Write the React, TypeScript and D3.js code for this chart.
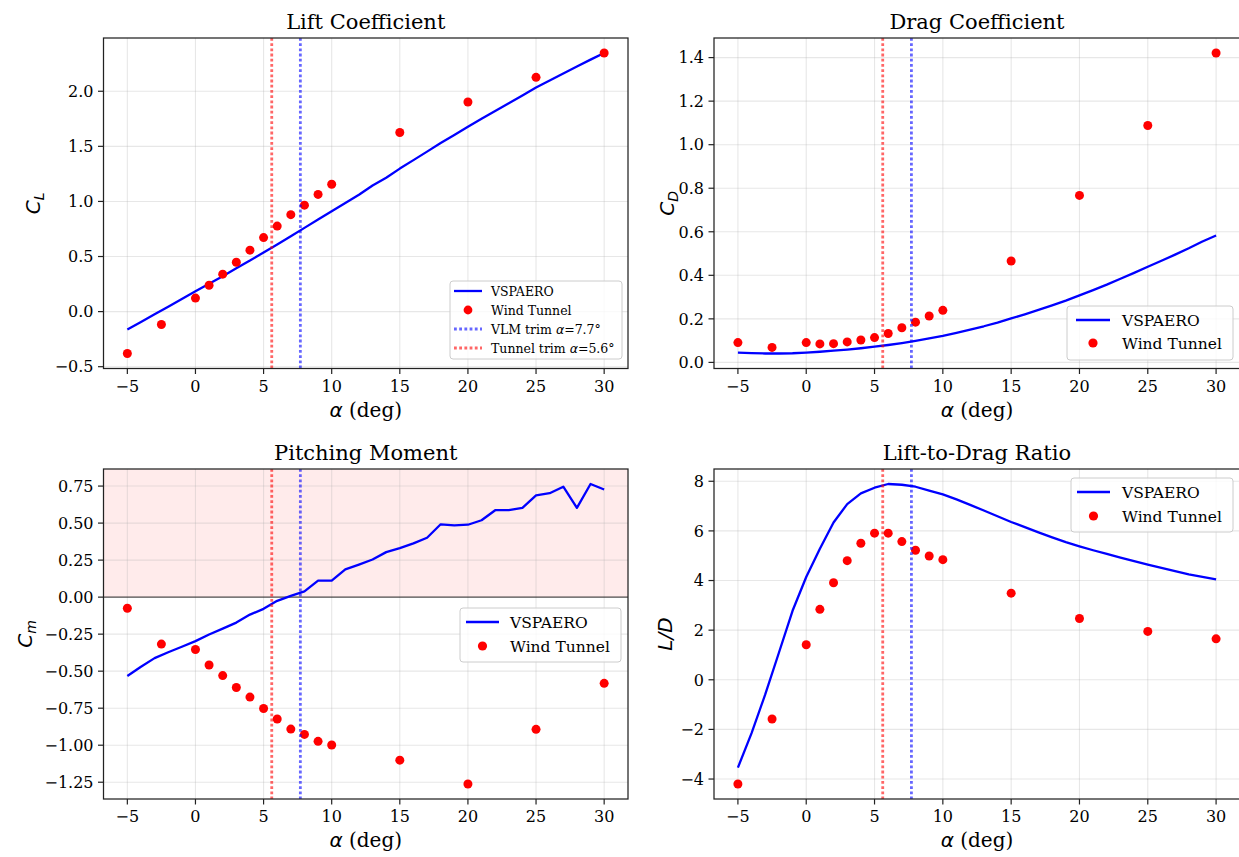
import React from 'react';
import * as d3 from 'd3';

// ---------------- DATA ----------------
const ALPHA_VSP = [-5, -4, -3, -2, -1, 0, 1, 2, 3, 4, 5, 6, 7, 8, 9, 10, 11, 12, 13, 14, 15, 16, 17, 18, 19, 20, 21, 22, 23, 24, 25, 26, 27, 28, 29, 30];
const ALPHA_WT = [-5, -2.5, 0, 1, 2, 3, 4, 5, 6, 7, 8, 9, 10, 15, 20, 25, 30];

const CL_VSP = [-0.163, -0.095, -0.025, 0.045, 0.115, 0.184, 0.252, 0.322, 0.393, 0.463, 0.537, 0.61, 0.684, 0.76, 0.836, 0.911, 0.985, 1.06, 1.145, 1.215, 1.298, 1.375, 1.452, 1.53, 1.603, 1.678, 1.75, 1.82, 1.89, 1.962, 2.034, 2.098, 2.162, 2.225, 2.287, 2.347];
const CL_WT = [-0.38, -0.117, 0.123, 0.239, 0.34, 0.448, 0.558, 0.672, 0.776, 0.88, 0.966, 1.064, 1.156, 1.626, 1.902, 2.126, 2.347];

const CD_VSP = [0.045, 0.043, 0.041, 0.041, 0.042, 0.045, 0.049, 0.054, 0.059, 0.065, 0.072, 0.08, 0.089, 0.099, 0.11, 0.122, 0.136, 0.151, 0.166, 0.183, 0.202, 0.221, 0.241, 0.262, 0.284, 0.308, 0.332, 0.357, 0.384, 0.411, 0.439, 0.467, 0.495, 0.524, 0.555, 0.583];
const CD_WT = [0.091, 0.069, 0.091, 0.085, 0.086, 0.094, 0.103, 0.114, 0.133, 0.159, 0.185, 0.213, 0.239, 0.466, 0.767, 1.088, 1.421];

const CM_VSP = [-0.533, -0.47, -0.412, -0.372, -0.335, -0.297, -0.252, -0.213, -0.172, -0.118, -0.079, -0.025, 0.009, 0.039, 0.111, 0.111, 0.188, 0.22, 0.254, 0.304, 0.331, 0.363, 0.401, 0.492, 0.485, 0.489, 0.519, 0.587, 0.587, 0.603, 0.687, 0.702, 0.746, 0.603, 0.764, 0.727];
const CM_WT = [-0.075, -0.317, -0.354, -0.458, -0.53, -0.61, -0.675, -0.752, -0.823, -0.891, -0.927, -0.974, -0.999, -1.101, -1.262, -0.893, -0.582];

const LD_VSP = [-3.54, -2.15, -0.59, 1.09, 2.78, 4.14, 5.28, 6.34, 7.08, 7.51, 7.74, 7.89, 7.86, 7.78, 7.62, 7.47, 7.27, 7.05, 6.82, 6.59, 6.36, 6.15, 5.94, 5.74, 5.55, 5.38, 5.22, 5.07, 4.92, 4.78, 4.64, 4.51, 4.38, 4.25, 4.15, 4.05];
const LD_WT = [-4.2, -1.58, 1.41, 2.84, 3.91, 4.8, 5.5, 5.91, 5.91, 5.57, 5.22, 4.99, 4.84, 3.49, 2.47, 1.95, 1.65];

const X_TICKS = [-5, 0, 5, 10, 15, 20, 25, 30];
const CL_TICKS = [-0.5, 0, 0.5, 1.0, 1.5, 2.0];
const CD_TICKS = [0, 0.2, 0.4, 0.6, 0.8, 1.0, 1.2, 1.4];
const CM_TICKS = [-1.25, -1.0, -0.75, -0.5, -0.25, 0, 0.25, 0.5, 0.75];
const LD_TICKS = [-4, -2, 0, 2, 4, 6, 8];

const TRIM_VLM = 7.7;
const TRIM_TUNNEL = 5.6;

const TITLES = ['Lift Coefficient', 'Drag Coefficient', 'Pitching Moment', 'Lift-to-Drag Ratio'];
const SERIES_NAMES = ['VSPAERO', 'Wind Tunnel'];

// ---------------- STYLE ----------------
const SERIF = '"DejaVu Serif", serif';
const SANS = '"DejaVu Sans", sans-serif';
const W = 1239;
const H = 857;
const TICK_FS = 16;
const LABEL_FS = 20;
const TITLE_FS = 21;
const MINUS = '\u2212';
const DOT_W = 2.8;
const DOT_DASH = '2.8,2.4';

const fmt = (d: number, digits: number) => {
  const s = d.toFixed(digits);
  return s.startsWith('-') ? MINUS + s.slice(1) : s;
};

type LegendSpec = {
  left: number; top: number; width: number; height: number;
  rows: number[]; handleX0: number; handleX1: number; textX: number; fs: number; trims: boolean;
};

type PanelSpec = {
  x0: number; x1: number; y0: number; y1: number;
  title: string;
  ylabel: React.ReactNode;
  ylabelX: number;
  vsp: number[]; wt: number[];
  ticks: number[]; digits: number;
  shade?: boolean;
  legend: LegendSpec;
};

function Legend({ spec }: { spec: LegendSpec }) {
  const { left, top, width, height, rows, handleX0, handleX1, textX, fs, trims } = spec;
  const hx = (handleX0 + handleX1) / 2;
  const entries: React.ReactNode[] = [];
  entries.push(
    <g key="v">
      <line x1={handleX0} x2={handleX1} y1={rows[0]} y2={rows[0]} stroke="#0000ff" strokeWidth={2.3} />
      <text x={textX} y={rows[0]} dy="0.36em" fontFamily={SERIF} fontSize={fs}>{SERIES_NAMES[0]}</text>
    </g>
  );
  entries.push(
    <g key="w">
      <circle cx={hx} cy={rows[1]} r={fs > 14 ? 4.6 : 4.4} fill="#ff0000" />
      <text x={textX} y={rows[1]} dy="0.36em" fontFamily={SERIF} fontSize={fs}>{SERIES_NAMES[1]}</text>
    </g>
  );
  if (trims) {
    entries.push(
      <g key="t1">
        <line x1={handleX0} x2={handleX1} y1={rows[2]} y2={rows[2]} stroke="#0000ff" strokeOpacity={0.6} strokeWidth={DOT_W} strokeDasharray={DOT_DASH} />
        <text x={textX} y={rows[2]} dy="0.36em" fontFamily={SERIF} fontSize={fs}>
          VLM trim <tspan fontFamily={SANS} fontStyle="italic">α</tspan>={TRIM_VLM.toFixed(1)}°
        </text>
      </g>
    );
    entries.push(
      <g key="t2">
        <line x1={handleX0} x2={handleX1} y1={rows[3]} y2={rows[3]} stroke="#ff0000" strokeOpacity={0.6} strokeWidth={DOT_W} strokeDasharray={DOT_DASH} />
        <text x={textX} y={rows[3]} dy="0.36em" fontFamily={SERIF} fontSize={fs}>
          Tunnel trim <tspan fontFamily={SANS} fontStyle="italic">α</tspan>={TRIM_TUNNEL.toFixed(1)}°
        </text>
      </g>
    );
  }
  return (
    <g>
      <rect x={left} y={top} width={width} height={height} rx={3} ry={3} fill="#ffffff" fillOpacity={0.8} stroke="#cccccc" strokeWidth={1} />
      {entries}
    </g>
  );
}

function Panel({ p }: { p: PanelSpec }) {
  const all = [...p.vsp, ...p.wt];
  const lo = d3.min(all) as number;
  const hi = d3.max(all) as number;
  const pad = (hi - lo) * 0.05;
  const xAll = [...ALPHA_VSP, ...ALPHA_WT];
  const xlo = d3.min(xAll) as number;
  const xhi = d3.max(xAll) as number;
  const xpad = (xhi - xlo) * 0.05;

  const x = d3.scaleLinear().domain([xlo - xpad, xhi + xpad]).range([p.x0, p.x1]);
  const y = d3.scaleLinear().domain([lo - pad, hi + pad]).range([p.y1, p.y0]);

  const line = d3.line<number>().x((_, i) => x(ALPHA_VSP[i])).y((d) => y(d));
  const clipId = `clip-${p.x0}-${p.y0}`;
  const cx = (p.x0 + p.x1) / 2;
  const cy = (p.y0 + p.y1) / 2;

  return (
    <g>
      <defs>
        <clipPath id={clipId}>
          <rect x={p.x0} y={p.y0} width={p.x1 - p.x0} height={p.y1 - p.y0} />
        </clipPath>
      </defs>
      <g clipPath={`url(#${clipId})`}>
        {p.shade && (
          <rect x={p.x0} y={p.y0} width={p.x1 - p.x0} height={y(0) - p.y0} fill="#ff0000" fillOpacity={0.08} />
        )}
        {X_TICKS.map((t) => (
          <line key={'gx' + t} x1={x(t)} x2={x(t)} y1={p.y0} y2={p.y1} stroke="#b0b0b0" strokeOpacity={0.3} strokeWidth={1.1} />
        ))}
        {p.ticks.map((t) => (
          <line key={'gy' + t} x1={p.x0} x2={p.x1} y1={y(t)} y2={y(t)} stroke="#b0b0b0" strokeOpacity={0.3} strokeWidth={1.1} />
        ))}
        {p.shade && (
          <line x1={p.x0} x2={p.x1} y1={y(0)} y2={y(0)} stroke="#000000" strokeOpacity={0.65} strokeWidth={1.2} />
        )}
        <path d={line(p.vsp) || ''} fill="none" stroke="#0000ff" strokeWidth={2.3} strokeLinejoin="round" />
        {p.wt.map((v, i) => (
          <circle key={'wt' + i} cx={x(ALPHA_WT[i])} cy={y(v)} r={4.5} fill="#ff0000" />
        ))}
        <line x1={x(TRIM_VLM)} x2={x(TRIM_VLM)} y1={p.y0} y2={p.y1} stroke="#0000ff" strokeOpacity={0.6} strokeWidth={DOT_W} strokeDasharray={DOT_DASH} />
        <line x1={x(TRIM_TUNNEL)} x2={x(TRIM_TUNNEL)} y1={p.y0} y2={p.y1} stroke="#ff0000" strokeOpacity={0.6} strokeWidth={DOT_W} strokeDasharray={DOT_DASH} />
      </g>
      <Legend spec={p.legend} />
      <rect x={p.x0} y={p.y0} width={p.x1 - p.x0} height={p.y1 - p.y0} fill="none" stroke="#222" strokeWidth={1.25} />
      {X_TICKS.map((t) => (
        <g key={'xt' + t}>
          <line x1={x(t)} x2={x(t)} y1={p.y1} y2={p.y1 + 5.5} stroke="#222" strokeWidth={1.2} />
          <text x={x(t)} y={p.y1 + 23} textAnchor="middle" fontFamily={SERIF} fontSize={TICK_FS}>{fmt(t, 0)}</text>
        </g>
      ))}
      {p.ticks.map((t) => (
        <g key={'yt' + t}>
          <line x1={p.x0 - 5.5} x2={p.x0} y1={y(t)} y2={y(t)} stroke="#222" strokeWidth={1.2} />
          <text x={p.x0 - 10} y={y(t)} dy="0.36em" textAnchor="end" fontFamily={SERIF} fontSize={TICK_FS}>{fmt(t, p.digits)}</text>
        </g>
      ))}
      <text x={cx} y={p.y1 + 48} textAnchor="middle" fontFamily={SERIF} fontSize={LABEL_FS}>
        <tspan fontFamily={SANS} fontStyle="italic">α</tspan> (deg)
      </text>
      <text transform={`translate(${p.ylabelX},${cy}) rotate(-90)`} textAnchor="middle" fontFamily={SANS} fontSize={LABEL_FS}>
        {p.ylabel}
      </text>
      <text x={cx} y={p.y0 - 9} textAnchor="middle" fontFamily={SERIF} fontSize={TITLE_FS}>{p.title}</text>
    </g>
  );
}

const sub = (main: string, s: string) => (
  <>
    <tspan fontStyle="italic">{main}</tspan>
    <tspan fontStyle="italic" fontSize={14} dy={4}>{s}</tspan>
  </>
);

export default function App() {
  const L = { x0: 103.5, x1: 628 };
  const R = { x0: 714, x1: 1240 };
  const T = { y0: 38, y1: 368.5 };
  const B = { y0: 469, y1: 799 };

  const panels: PanelSpec[] = [
    {
      ...L, ...T, title: TITLES[0], ylabel: sub('C', 'L'), ylabelX: 40,
      vsp: CL_VSP, wt: CL_WT, ticks: CL_TICKS, digits: 1,
      legend: { left: 450, top: 281, width: 172, height: 78, rows: [291, 310, 329, 348], handleX0: 454, handleX1: 482, textX: 491, fs: 12.5, trims: true },
    },
    {
      ...R, ...T, title: TITLES[1], ylabel: sub('C', 'D'), ylabelX: 674,
      vsp: CD_VSP, wt: CD_WT, ticks: CD_TICKS, digits: 1,
      legend: { left: 1067, top: 306, width: 166, height: 54, rows: [320, 343], handleX0: 1076, handleX1: 1110, textX: 1122, fs: 15.5, trims: false },
    },
    {
      ...L, ...B, title: TITLES[2], ylabel: sub('C', 'm'), ylabelX: 32,
      vsp: CM_VSP, wt: CM_WT, ticks: CM_TICKS, digits: 2, shade: true,
      legend: { left: 460, top: 608, width: 161, height: 54, rows: [622, 646], handleX0: 466, handleX1: 499, textX: 510, fs: 15.5, trims: false },
    },
    {
      ...R, ...B, title: TITLES[3], ylabel: <tspan fontStyle="italic">L/D</tspan>, ylabelX: 672,
      vsp: LD_VSP, wt: LD_WT, ticks: LD_TICKS, digits: 0,
      legend: { left: 1071, top: 478, width: 162, height: 54, rows: [492, 516], handleX0: 1077, handleX1: 1110, textX: 1122, fs: 15.5, trims: false },
    },
  ];

  return (
    <svg width={W} height={H} viewBox={`0 0 ${W} ${H}`} style={{ position: 'absolute', left: 0, top: 0, background: '#fff' }}>
      <rect x={0} y={0} width={W} height={H} fill="#ffffff" />
      {panels.map((p, i) => <Panel key={i} p={p} />)}
    </svg>
  );
}
